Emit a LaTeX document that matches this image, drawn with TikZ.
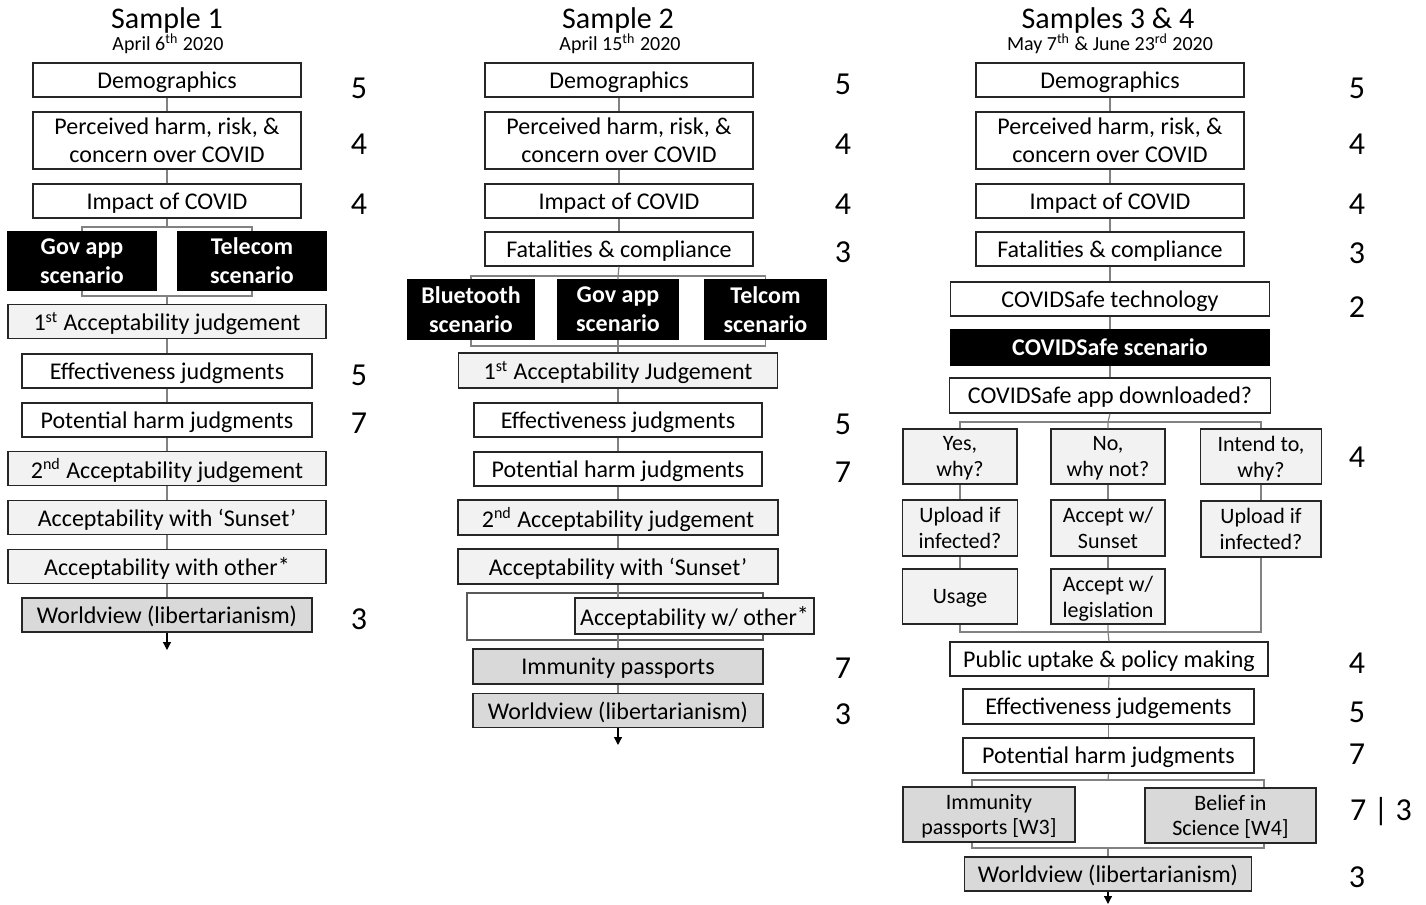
\documentclass[tikz,border=0pt]{standalone}
\usepackage{fontspec}
\setmainfont{Carlito}
\usetikzlibrary{arrows.meta, positioning, calc}
\definecolor{boxgrey}{RGB}{242, 242, 242}
\definecolor{boxdark}{RGB}{217, 217, 217}
\definecolor{linegrey}{RGB}{130, 130, 130}
\tikzset{
  box/.style={draw=black!85, line width=0.75pt, fill=white, align=center, inner sep=0pt,
    minimum height=17pt, text depth=0pt, font=\fontsize{12}{14}\selectfont},
  lightbox/.style={box, fill=boxgrey},
  darkbox/.style={box, fill=boxdark},
  scenbox/.style={box, draw=black, fill=black, text=white, font=\fontsize{12}{14.5}\selectfont\bfseries},
  smallbox/.style={lightbox, minimum height=27.5pt, font=\fontsize{11}{13}\selectfont},
  numlab/.style={inner sep=0pt, font=\fontsize{16}{16}\selectfont},
  headlab/.style={inner sep=0pt, font=\fontsize{15}{15}\selectfont},
  datelab/.style={inner sep=0pt, font=\fontsize{10}{10}\selectfont},
  conn/.style={draw=linegrey, line width=0.6pt},
  endarrow/.style={draw=black, line width=0.6pt, -{Triangle[length=4pt, width=4pt]}},
}
\newcommand{\astk}{\raisebox{0.12ex}{*}}

\begin{document}
\begin{tikzpicture}[x=0.5pt, y=-0.5pt]
  \useasboundingbox (0,0) rectangle (1426,905);

  % LEFT: Sample 1
  \node[headlab] (s1head) at (167,20) {Sample 1};
  \node[datelab] (s1date) at (168,44) {April 6\textsuperscript{th} 2020};
  \node[box, minimum width=134pt] (s1demo) at (167,80) {Demographics};
  \node[box, minimum width=134pt, minimum height=28.5pt] (s1risk) at (167,140.5) {Perceived harm, risk, \&\\concern over COVID};
  \node[box, minimum width=134pt] (s1impact) at (167,201) {Impact of COVID};
  \node[scenbox, minimum width=74pt, minimum height=29pt] (s1gov) at (82,261) {Gov app\\scenario};
  \node[scenbox, minimum width=74pt, minimum height=29pt] (s1tel) at (252,261) {Telecom\\scenario};
  \node[lightbox, minimum width=159pt] (s1acc1) at (167,321.5) {1\textsuperscript{st} Acceptability judgement};
  \node[box, minimum width=145pt] (s1eff) at (167,371) {Effectiveness judgments};
  \node[box, minimum width=145pt] (s1harm) at (167,420) {Potential harm judgments};
  \node[lightbox, minimum width=159pt] (s1acc2) at (167,468.5) {2\textsuperscript{nd} Acceptability judgement};
  \node[lightbox, minimum width=159pt] (s1sunset) at (167,517.5) {Acceptability with `Sunset'};
  \node[lightbox, minimum width=159pt] (s1other) at (167,566.5) {Acceptability with other\astk};
  \node[darkbox, minimum width=145pt] (s1world) at (167,615) {Worldview (libertarianism)};
  \coordinate (s1top) at (167,227);
  \coordinate (s1bot) at (167,296);
  \coordinate (s1end) at (167,650);

  \foreach \a/\b in {s1demo/s1risk, s1risk/s1impact, s1acc1/s1eff, s1eff/s1harm,
                     s1harm/s1acc2, s1acc2/s1sunset, s1sunset/s1other, s1other/s1world}
    \draw[conn] (\a.south) -- (\b.north);
  % Scenario split
  \draw[conn] (s1impact.south) -- (s1top);
  \draw[conn] (s1gov.north) |- (s1top) -| (s1tel.north);
  \draw[conn] (s1gov.south) |- (s1bot) -| (s1tel.south);
  \draw[conn] (s1bot) -- (s1acc1.north);
  \draw[endarrow] (s1world.south) -- (s1end);

  \foreach \y/\n [count=\i] in {88/5, 144/4, 204/4, 375/5, 423/7, 619/3}
    \node[numlab] (s1n\i) at (359,\y) {\n};

  % MIDDLE: Sample 2
  \node[headlab] (s2head) at (618,20) {Sample 2};
  \node[datelab] (s2date) at (620,44) {April 15\textsuperscript{th} 2020};
  \node[box, minimum width=134pt] (s2demo) at (619,80) {Demographics};
  \node[box, minimum width=134pt, minimum height=28.5pt] (s2risk) at (619,140.5) {Perceived harm, risk, \&\\concern over COVID};
  \node[box, minimum width=134pt] (s2impact) at (619,201) {Impact of COVID};
  \node[box, minimum width=134pt] (s2fatal) at (619,249) {Fatalities \& compliance};
  \node[scenbox, minimum width=63pt, minimum height=29.5pt] (s2blue) at (471,309.5) {Bluetooth\\scenario};
  \node[scenbox, minimum width=60pt, minimum height=29.5pt] (s2gov) at (618,309.5) {Gov app\\scenario};
  \node[scenbox, minimum width=60.5pt, minimum height=29.5pt] (s2tel) at (765.5,309.5) {Telcom\\scenario};
  \node[lightbox, minimum width=159.5pt, minimum height=17.5pt] (s2acc1) at (618,370.5) {1\textsuperscript{st} Acceptability Judgement};
  \node[box, minimum width=144pt] (s2eff) at (618,420) {Effectiveness judgments};
  \node[box, minimum width=144pt] (s2harm) at (618,469) {Potential harm judgments};
  \node[lightbox, minimum width=160pt, minimum height=17.5pt] (s2acc2) at (618,517.5) {2\textsuperscript{nd} Acceptability judgement};
  \node[lightbox, minimum width=160pt, minimum height=17.5pt] (s2sunset) at (618,566.5) {Acceptability with `Sunset'};
  \node[box, draw=black!65, line width=0.6pt, minimum width=148pt, minimum height=23.5pt] (s2otherbg) at (615,616.5) {};
  \node[lightbox, minimum width=119.5pt, minimum height=18pt] (s2other) at (694.5,616) {Acceptability w/ other\astk};
  \node[darkbox, minimum width=145pt, minimum height=17.5pt] (s2immun) at (618,666.5) {Immunity passports};
  \node[darkbox, minimum width=145pt] (s2world) at (618,710.5) {Worldview (libertarianism)};
  \coordinate (s2top) at (618,276);
  \coordinate (s2bot) at (618,346);
  \coordinate (s2end) at (618,745);

  \foreach \a/\b in {s2demo/s2risk, s2risk/s2impact, s2impact/s2fatal, s2acc1/s2eff,
                     s2eff/s2harm, s2harm/s2acc2, s2acc2/s2sunset, s2immun/s2world}
    \draw[conn] (\a.south) -- (\b.north);
  % Scenario split
  \draw[conn] (s2fatal.south) -- (s2top) -- (s2gov.north);
  \draw[conn] (s2blue.north) |- (s2top) -| (s2tel.north);
  \draw[conn] (s2blue.south) |- (s2bot) -| (s2tel.south);
  \draw[conn] (s2gov.south) -- (s2bot) -- (s2acc1.north);
  % Through the other* box
  \draw[conn] (s2sunset.south) -- (s2sunset.south |- s2other.north);
  \draw[conn] (s2sunset.south |- s2other.south) -- (s2immun.north);
  \draw[endarrow] (s2world.south) -- (s2end);

  \foreach \y/\n [count=\i] in {84/5, 144/4, 204/4, 252/3, 424/5, 472/7, 668/7, 714/3}
    \node[numlab] (s2n\i) at (843,\y) {\n};

  % RIGHT: Samples 3 & 4
  \node[headlab] (s3head) at (1108,20) {Samples 3 \& 4};
  \node[datelab] (s3date) at (1110,44) {May 7\textsuperscript{th} \& June 23\textsuperscript{rd} 2020};
  \node[box, minimum width=134pt] (s3demo) at (1110,80) {Demographics};
  \node[box, minimum width=134pt, minimum height=28.5pt] (s3risk) at (1110,140.5) {Perceived harm, risk, \&\\concern over COVID};
  \node[box, minimum width=134pt] (s3impact) at (1110,201) {Impact of COVID};
  \node[box, minimum width=134pt] (s3fatal) at (1110,249) {Fatalities \& compliance};
  \node[box, minimum width=159.5pt] (s3tech) at (1110,299) {COVIDSafe technology};
  \node[scenbox, minimum width=159.5pt, minimum height=17.5pt] (s3scen) at (1110,347.5) {COVIDSafe scenario};
  \node[box, minimum width=160.5pt, minimum height=17.5pt] (s3down) at (1110,395.5) {COVIDSafe app downloaded?};

  \node[smallbox, minimum width=57pt] (s3yes) at (960,456.5) {Yes,\\why?};
  \node[smallbox, minimum width=57pt] (s3no) at (1108,456.5) {No,\\why not?};
  \node[smallbox, minimum width=60.5pt] (s3intend) at (1261,456.5) {Intend to,\\why?};
  \node[smallbox, minimum width=57.5pt, minimum height=28pt] (s3upl1) at (960,528) {Upload if\\infected?};
  \node[smallbox, minimum width=57pt, minimum height=28pt] (s3sunset) at (1108,528) {Accept w/\\Sunset};
  \node[smallbox, minimum width=60pt, minimum height=28pt] (s3upl2) at (1261,529) {Upload if\\infected?};
  \node[smallbox, minimum width=57.5pt] (s3usage) at (960,596.5) {Usage};
  \node[smallbox, minimum width=57pt] (s3legis) at (1108,596.5) {Accept w/\\legislation};
  \coordinate (s3top) at (1108,422);
  \coordinate (s3bot) at (1108,632);

  \node[box, minimum width=159pt] (s3public) at (1109,659) {Public uptake \& policy making};
  \node[box, minimum width=145.5pt, minimum height=17.5pt] (s3eff) at (1108.5,706.5) {Effectiveness judgements};
  \node[box, minimum width=145.5pt, minimum height=17.5pt] (s3harm) at (1108.5,755.5) {Potential harm judgments};

  % Frame behind the last pair
  \coordinate (s3wtl) at (972,780);
  \coordinate (s3wbr) at (1264,848);
  \coordinate (s3wtop) at (1108,780);
  \coordinate (s3wbot) at (1108,848);
  \draw[conn] (s3wtl) rectangle (s3wbr);
  \node[darkbox, minimum width=86pt, minimum height=27.5pt, font=\fontsize{11}{12.5}\selectfont] (s3immun) at (989,814.5) {Immunity\\passports [W3]};
  \node[darkbox, minimum width=85.5pt, minimum height=27.5pt, font=\fontsize{11}{12.5}\selectfont] (s3belief) at (1230.5,815.5) {Belief in\\Science [W4]};
  \node[darkbox, minimum width=143.5pt] (s3world) at (1108,874) {Worldview (libertarianism)};
  \coordinate (s3end) at (1108,904);

  \foreach \a/\b in {s3demo/s3risk, s3risk/s3impact, s3impact/s3fatal, s3fatal/s3tech,
                     s3tech/s3scen, s3scen/s3down, s3yes/s3upl1, s3upl1/s3usage,
                     s3no/s3sunset, s3sunset/s3legis, s3intend/s3upl2,
                     s3public/s3eff, s3eff/s3harm}
    \draw[conn] (\a.south) -- (\b.north);
  % Answer split
  \draw[conn] (s3down.south) -- (s3top) -- (s3no.north);
  \draw[conn] (s3yes.north) |- (s3top) -| (s3intend.north);
  \draw[conn] (s3usage.south) |- (s3bot) -| (s3upl2.south);
  \draw[conn] (s3legis.south) -- (s3bot) -- (s3public.north);
  \draw[conn] (s3harm.south) -- (s3wtop);
  \draw[conn] (s3wbot) -- (s3world.north);
  \draw[endarrow] (s3world.south) -- (s3end);

  \foreach \y/\n [count=\i] in {88/5, 144/4, 204/4, 253/3, 307/2, 457/4, 663/4, 712/5, 754/7, 877/3}
    \node[numlab] (s3n\i) at (1357,\y) {\n};
  \node[numlab] (s3n11) at (1381,812) {7 | 3};
\end{tikzpicture}
\end{document}
